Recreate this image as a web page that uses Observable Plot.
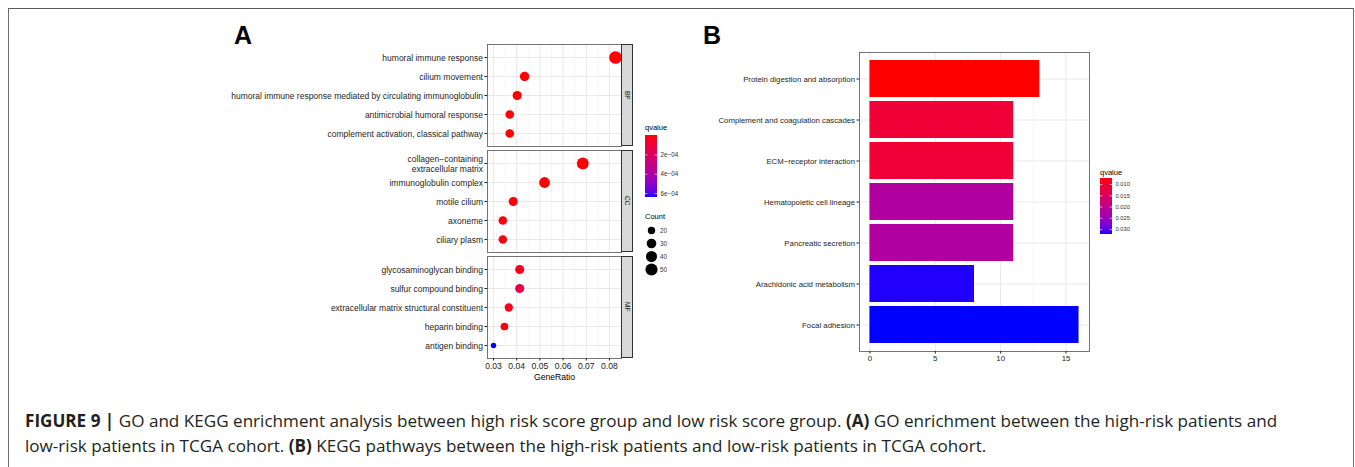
<!DOCTYPE html>
<html>
<head>
<meta charset="utf-8">
<script src="https://cdn.jsdelivr.net/npm/d3@7"></script>
<script src="https://cdn.jsdelivr.net/npm/@observablehq/plot@0.6"></script>
<style>
  html, body { margin: 0; padding: 0; background: #fff; overflow: hidden; }
  #root { position: relative; width: 1355px; height: 467px; font-family: "Liberation Sans", Arial, sans-serif; }
  .abs { position: absolute; }
  .frame { left: 8px; top: 8px; width: 1346px; height: 480px; border: 1px solid #6e6e6e; border-top: 1.5px solid #5a5a5a; border-bottom: none; box-sizing: border-box; }
  .letter { font-weight: bold; font-size: 25px; line-height: 25px; color: #000; }
  .strip { background: #d9d9d9; border: 0.8px solid #333; box-sizing: border-box; width: 12px;
           display: flex; align-items: center; justify-content: center; }
  .strip span { writing-mode: vertical-rl; font-size: 6.5px; color: #1a1a1a; }
  .legtitle { font-size: 7.5px; color: #000; line-height: 8px; }
  .caption { left: 25px; top: 407.5px; width: 1320px; font-family: "Open Sans", "Liberation Sans", Arial, sans-serif; font-size: 17.1px; line-height: 25px; color: #231f20; white-space: nowrap; }
  svg { overflow: visible; }
</style>
</head>
<body>
<div id="root">
  <div class="abs frame"></div>
  <div class="abs letter" style="left:234px;top:22.7px">A</div>
  <div class="abs letter" style="left:703px;top:22.7px">B</div>
  <div class="abs caption"><b>FIGURE 9 |</b> GO and KEGG enrichment analysis between high risk score group and low risk score group. <b>(A)</b> GO enrichment between the high-risk patients and<br>low-risk patients in TCGA cohort. <b>(B)</b> KEGG pathways between the high-risk patients and low-risk patients in TCGA cohort.</div>
</div>
<script>
// ---------------- Data (panel A: GO) ----------------
const ontologies = ["BP", "CC", "MF"];

const bpTerms = ["humoral immune response", "cilium movement", "humoral immune response mediated by circulating immunoglobulin", "antimicrobial humoral response", "complement activation, classical pathway"];
const bpRatio = [0.0826, 0.0434, 0.0402, 0.0370, 0.0370];
const bpCount = [55, 29, 27, 25, 25];
const bpQ = [1.0e-7, 2.0e-6, 1.5e-6, 5.0e-6, 8.0e-6];

const ccTerms = ["collagen−containing\nextracellular matrix", "immunoglobulin complex", "motile cilium", "axoneme", "ciliary plasm"];
const ccRatio = [0.0685, 0.0520, 0.0385, 0.0340, 0.0340];
const ccCount = [48, 38, 27, 24, 24];
const ccQ = [1.0e-6, 3.0e-7, 1.0e-5, 1.2e-5, 1.5e-5];

const mfTerms = ["glycosaminoglycan binding", "sulfur compound binding", "extracellular matrix structural constituent", "heparin binding", "antigen binding"];
const mfRatio = [0.0413, 0.0413, 0.0366, 0.0347, 0.0300];
const mfCount = [27, 27, 23, 21, 17];
const mfQ = [2.5e-5, 1.4e-4, 3.0e-5, 2.0e-5, 6.4e-4];

const goXTicks = [0.03, 0.04, 0.05, 0.06, 0.07, 0.08];
const goXMinor = [0.025, 0.035, 0.045, 0.055, 0.065, 0.075, 0.085];
const goQTicks = [2e-4, 4e-4, 6e-4];
const goQLabels = ["2e−04", "4e−04", "6e−04"];
const countBreaks = [20, 30, 40, 50];

// ---------------- Data (panel B: KEGG) ----------------
const keggTerms = ["Protein digestion and absorption", "Complement and coagulation cascades", "ECM−receptor interaction", "Hematopoietic cell lineage", "Pancreatic secretion", "Arachidonic acid metabolism", "Focal adhesion"];
const keggCount = [13, 11, 11, 11, 11, 8, 16];
const keggQ = [0.0073, 0.0110, 0.0110, 0.0222, 0.0222, 0.0319, 0.0322];
const keggXTicks = [0, 5, 10, 15];
const keggXMinor = [2.5, 7.5, 12.5];
const keggQTicks = [0.010, 0.015, 0.020, 0.025, 0.030];
const keggQLabels = ["0.010", "0.015", "0.020", "0.025", "0.030"];

// ---------------- Helpers ----------------
const root = document.getElementById("root");
const FONT = "'Liberation Sans', Arial, sans-serif";
function place(el, left, top) {
  el.style.position = "absolute";
  el.style.left = left + "px";
  el.style.top = top + "px";
  root.appendChild(el);
  return el;
}
function div(cls, html, left, top, extra) {
  const d = document.createElement("div");
  d.className = "abs " + (cls || "");
  d.innerHTML = html;
  d.style.left = left + "px";
  d.style.top = top + "px";
  if (extra) Object.assign(d.style, extra);
  root.appendChild(d);
  return d;
}

const allQ = [...bpQ, ...ccQ, ...mfQ];
const goQDomain = d3.extent(allQ);
const allCount = [...bpCount, ...ccCount, ...mfCount];
const [cMin, cMax] = d3.extent(allCount);
// ggplot-like size: radius grows with sqrt of the rescaled count
const sizeOf = v => Math.sqrt((v - cMin) / (cMax - cMin));
const rScale = { type: "linear", domain: [0, 1], range: [2.7, 6.3] };
const goColor = { type: "linear", domain: goQDomain, range: ["red", "blue"], interpolate: d3.interpolateLab };

const PANEL_L = 487, PANEL_W = 134, ML = 257, SVG_L = PANEL_L - ML;
const facetTops = [44, 150, 255.5];
const facetH = 102;
const facetData = [
  [bpTerms, bpRatio, bpCount, bpQ],
  [ccTerms, ccRatio, ccCount, ccQ],
  [mfTerms, mfRatio, mfCount, mfQ]
];

facetData.forEach(([terms, ratio, count, q], i) => {
  const last = i === facetData.length - 1;
  const data = terms.map((t, j) => ({ term: t, ratio: ratio[j], count: count[j], q: q[j] }));
  const marks = [
    Plot.ruleX(goXMinor, { stroke: "#ededed", strokeWidth: 0.5 }),
    Plot.ruleX(goXTicks, { stroke: "#e6e6e6", strokeWidth: 0.9 }),
    Plot.gridY({ stroke: "#e6e6e6", strokeOpacity: 1, strokeWidth: 0.9 }),
    Plot.frame({ stroke: "#666", strokeWidth: 0.9 }),
    Plot.dot(data, { x: "ratio", y: "term", r: d => sizeOf(d.count), fill: "q" }),
    Plot.axisY({ tickSize: 2.5, tickPadding: 2, fontSize: 8.5, color: "#1e1e1e", label: null, lineHeight: 1.15 })
  ];
  if (last) {
    marks.push(Plot.axisX({ ticks: goXTicks, tickFormat: d => d.toFixed(2), tickSize: 2.5, tickPadding: 1.5, fontSize: 8.6, color: "#222", label: null }));
    marks.push(Plot.text(["GeneRatio"], { frameAnchor: "bottom", dy: 18.5, text: d => d, fontSize: 8.6, fill: "#000", lineAnchor: "middle" }));
  }
  const p = Plot.plot({
    width: ML + PANEL_W,
    height: facetH + (last ? 30 : 0),
    marginLeft: ML, marginRight: 0, marginTop: 0, marginBottom: last ? 30 : 0,
    x: { domain: [0.0274, 0.0852], axis: last ? undefined : null },
    y: { type: "point", domain: terms, padding: 0.6 },
    r: rScale,
    color: goColor,
    style: { fontFamily: FONT, background: "transparent", overflow: "visible" },
    marks
  });
  place(p, SVG_L, facetTops[i]);
  div("strip", `<span>${ontologies[i]}</span>`, PANEL_L + PANEL_W, facetTops[i], { height: facetH + "px" });
});

// GO colorbar legend
div("legtitle", "qvalue", 645, 124);
{
  const N = 62, dq = (goQDomain[1] - goQDomain[0]) / N;
  const slices = d3.range(N).map(k => goQDomain[0] + k * dq);
  const cb = Plot.plot({
    width: 50, height: 62, marginLeft: 0, marginRight: 38, marginTop: 0, marginBottom: 0,
    x: { domain: [0, 1], axis: null },
    y: { domain: goQDomain, range: [0, 62], axis: null },
    color: goColor,
    style: { fontFamily: FONT, background: "transparent", overflow: "visible" },
    marks: [
      Plot.rect(slices, { x1: 0, x2: 1, y1: d => d, y2: d => d + dq, fill: d => d + dq / 2, shapeRendering: "crispEdges" }),
      Plot.ruleY(goQTicks, { x1: 0, x2: 0.2, stroke: "white", strokeWidth: 0.6 }),
      Plot.ruleY(goQTicks, { x1: 0.8, x2: 1, stroke: "white", strokeWidth: 0.6 }),
      Plot.text(goQTicks, { x: 1, y: d => d, text: (d, k) => goQLabels[k], dx: 3, textAnchor: "start", fontSize: 6.3, fill: "#333" })
    ]
  });
  place(cb, 645, 135);
}
// Count legend
div("legtitle", "Count", 645, 213);
{
  const cl = Plot.plot({
    width: 50, height: 41, marginLeft: 0, marginRight: 38, marginTop: 0, marginBottom: 0,
    x: { domain: [0, 1], range: [0, 12], axis: null },
    y: { type: "point", domain: countBreaks, range: [0, 41], padding: 0, axis: null },
    r: rScale,
    style: { fontFamily: FONT, background: "transparent", overflow: "visible" },
    marks: [
      Plot.dot(countBreaks, { x: 0.5, y: d => d, r: d => sizeOf(d), fill: "black" }),
      Plot.text(countBreaks, { x: 1, y: d => d, text: d => String(d), dx: 2.5, textAnchor: "start", fontSize: 6.3, fill: "#333" })
    ]
  });
  place(cl, 645, 229);
}

// ---------------- Panel B ----------------
const keggData = keggTerms.map((t, j) => ({ term: t, count: keggCount[j], q: keggQ[j] }));
const keggQDomain = d3.extent(keggQ);
const keggColor = { type: "linear", domain: keggQDomain, range: ["red", "blue"], interpolate: d3.interpolateLab };
{
  const MLB = 159, PW = 230, PH = 299;
  const p = Plot.plot({
    width: MLB + PW, height: PH + 16,
    marginLeft: MLB, marginRight: 0, marginTop: 0, marginBottom: 16,
    x: { domain: [-0.8, 16.8] },
    y: { domain: keggTerms, paddingInner: 0.1, paddingOuter: 0.15 },
    color: keggColor,
    style: { fontFamily: FONT, background: "transparent", overflow: "visible" },
    marks: [
      Plot.ruleX(keggXMinor, { stroke: "#ededed", strokeWidth: 0.5 }),
      Plot.ruleX(keggXTicks, { stroke: "#e6e6e6", strokeWidth: 0.9 }),
      Plot.gridY({ stroke: "#e6e6e6", strokeOpacity: 1, strokeWidth: 0.9 }),
      Plot.barX(keggData, { x: "count", y: "term", fill: "q" }),
      Plot.frame({ stroke: "#666", strokeWidth: 0.9 }),
      Plot.axisY({ tickSize: 2.5, tickPadding: 2, fontSize: 7.8, color: "#1e1e1e", label: null }),
      Plot.axisX({ ticks: keggXTicks, tickSize: 2.5, tickPadding: 1.5, fontSize: 7.8, color: "#222", label: null })
    ]
  });
  place(p, 859 - MLB, 52);
}
// KEGG colorbar legend
div("legtitle", "qvalue", 1100, 169);
{
  const N = 56, dq = (keggQDomain[1] - keggQDomain[0]) / N;
  const slices = d3.range(N).map(k => keggQDomain[0] + k * dq);
  const cb = Plot.plot({
    width: 50, height: 56, marginLeft: 0, marginRight: 38, marginTop: 0, marginBottom: 0,
    x: { domain: [0, 1], axis: null },
    y: { domain: keggQDomain, range: [0, 56], axis: null },
    color: keggColor,
    style: { fontFamily: FONT, background: "transparent", overflow: "visible" },
    marks: [
      Plot.rect(slices, { x1: 0, x2: 1, y1: d => d, y2: d => d + dq, fill: d => d + dq / 2, shapeRendering: "crispEdges" }),
      Plot.ruleY(keggQTicks, { x1: 0, x2: 0.2, stroke: "white", strokeWidth: 0.6 }),
      Plot.ruleY(keggQTicks, { x1: 0.8, x2: 1, stroke: "white", strokeWidth: 0.6 }),
      Plot.text(keggQTicks, { x: 1, y: d => d, text: (d, k) => keggQLabels[k], dx: 3, textAnchor: "start", fontSize: 5.8, fill: "#333" })
    ]
  });
  place(cb, 1100, 178);
}
</script>
</body>
</html>
